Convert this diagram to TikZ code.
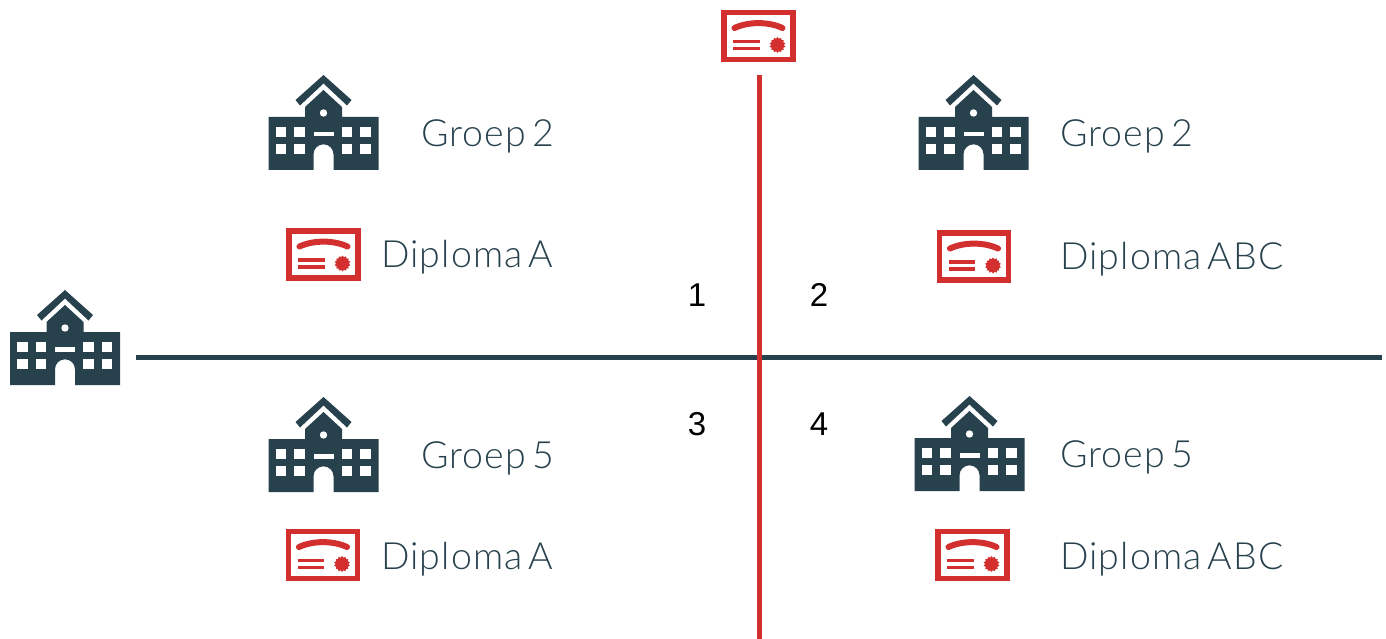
\documentclass[tikz,border=0pt]{standalone}
\usepackage{fontspec}
\setmainfont{Lato}[UprightFont=* Light,LetterSpace=3,WordSpace=0.55]
\newfontfamily\numfont{Liberation Sans}
\usetikzlibrary{shapes.geometric}
\definecolor{slatec}{HTML}{27414D}
\definecolor{redc}{HTML}{D32F2F}
\tikzset{
  x=1pt,y=-1pt,
  axis/.style={line width=5pt,line cap=butt},
  lbl/.style={anchor=base west,inner sep=0pt,text=slatec,font=\fontsize{37.5}{37.5}\selectfont},
  num/.style={anchor=center,inner sep=0pt,text=black,font=\numfont\fontsize{33}{33}\selectfont},
  school/.pic={
    \fill[slatec] (-55,-53) -- (-18.5,-53) -- (-18.5,-63) -- (0,-80) -- (18.5,-63) -- (18.5,-53) -- (55,-53) -- (55,0) -- (10,0) -- (10,-15.7) arc (0:-180:10) -- (-10,0) -- (-55,0) -- cycle;
    \fill[slatec] (0,-95) -- (28,-70) -- (23.5,-64.5) -- (0,-86.5) -- (-23.5,-64.5) -- (-28,-70) -- cycle;
    \fill[white] (0,-57) circle (3.7);
    \fill[white] (-10,-38) rectangle (10,-33.5);
    \foreach \wx in {-47.7,-29.3,18.3,36.7}{
      \fill[white] (\wx,-43.3) rectangle ++(10.6,10);
      \fill[white] (\wx,-26) rectangle ++(10.6,10);
    }
  },
  diploma/.pic={
    \draw[redc,line width=5.5pt] (-34.7,-23.7) rectangle (34.7,23.7);
    \draw[redc,line width=6pt,line cap=round] (-24,-8) .. controls (-10,-14.5) and (10,-14.5) .. (24,-8);
    \draw[redc,line width=3.5pt] (-25.5,5.7) -- ++(26.5,0);
    \draw[redc,line width=3.5pt] (-25.5,12.7) -- ++(26.5,0);
    \node (-seal) at (19,9) [star,star points=14,star point ratio=1.25,minimum size=16pt,fill=redc,inner sep=0pt] {};
  }
}
\begin{document}
\begin{tikzpicture}
\useasboundingbox (0,0) rectangle (1386,639);
\coordinate (hstart) at (136,357.5);
\coordinate (hend) at (1382,357.5);
\coordinate (vstart) at (759,75);
\coordinate (vend) at (759,639);
\draw[axis,slatec] (hstart) -- (hend);
\draw[axis,redc] (vstart) -- (vend);

\pic (sAxis) at (65,385) {school};
\pic (s1) at (323.5,170) {school};
\pic (s2) at (973.5,170) {school};
\pic (s3) at (323.5,492) {school};
\pic (s4) at (969.5,491) {school};

\pic (dAxis) at (758.5,36) {diploma};
\pic (d1) at (323.5,254.5) {diploma};
\pic (d2) at (974,256.5) {diploma};
\pic (d3) at (323,555) {diploma};
\pic (d4) at (972.5,555) {diploma};

\node[lbl] (g1) at (421,146.5) {Groep 2};
\node[lbl] (g2) at (1060,146.5) {Groep 2};
\node[lbl] (g3) at (421,468.5) {Groep 5};
\node[lbl] (g4) at (1060,467.5) {Groep 5};
\node[lbl] (t1) at (381,267) {Diploma A};
\node[lbl] (t2) at (1060,269) {Diploma ABC};
\node[lbl] (t3) at (381,569) {Diploma A};
\node[lbl] (t4) at (1060,569) {Diploma ABC};

\node[num] (n1) at (697,295) {1};
\node[num] (n2) at (819,295) {2};
\node[num] (n3) at (697,424) {3};
\node[num] (n4) at (819,424) {4};
\end{tikzpicture}
\end{document}
